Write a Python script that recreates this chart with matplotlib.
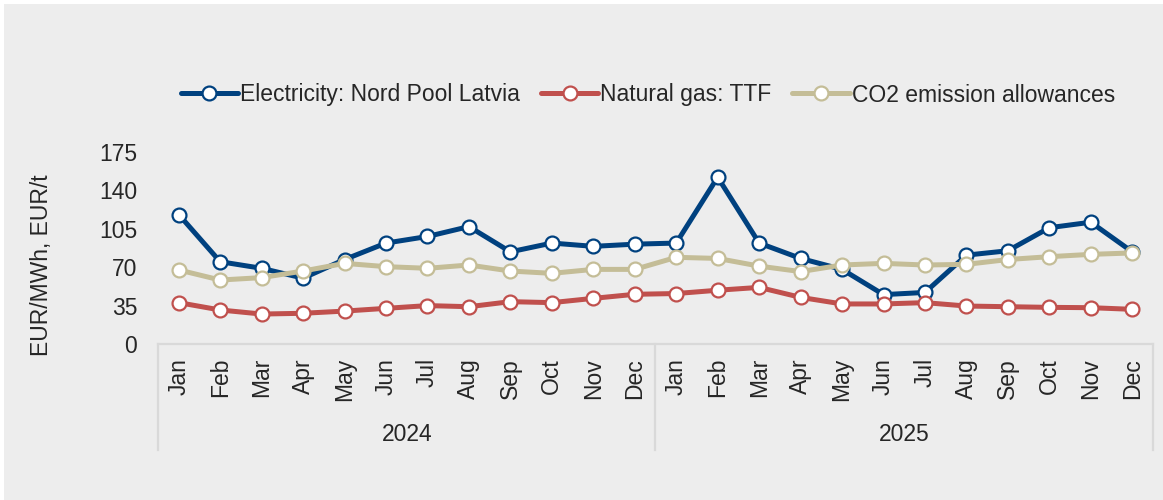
import numpy as np
import matplotlib
matplotlib.use("Agg")
from matplotlib import pyplot as plt
from matplotlib.patches import Rectangle
from matplotlib.transforms import blended_transform_factory

plt.rcParams['font.family'] = ['Liberation Sans', 'DejaVu Sans']

months = ["Jan", "Feb", "Mar", "Apr", "May", "Jun",
          "Jul", "Aug", "Sep", "Oct", "Nov", "Dec"]
years = ["2024", "2025"]

electricity = [118, 75, 69, 60, 77, 92, 98, 107, 84, 92, 89, 91,
               92, 152, 92, 78, 68, 45, 47, 81, 85, 106, 111, 84]
gas = [37.7, 31, 27.3, 28, 30, 32.5, 35, 34, 38.6, 37.7, 41.6, 45.3,
       46, 49, 51.6, 42.5, 36.5, 36.5, 37.7, 34.6, 34, 33.4, 33.1, 31.6]
co2 = [67.5, 58.3, 60.5, 66.5, 73.5, 70.5, 69, 72, 66.5, 64.4, 68, 68,
       79, 78, 71, 66, 72, 73.5, 72, 72.6, 77, 79.6, 81.7, 83]

series_names = ["Electricity: Nord Pool Latvia", "Natural gas: TTF",
                "CO2 emission allowances"]
colors = ["#00417f", "#c0504d", "#c4bd97"]

W, H = 1163, 500
fig = plt.figure(figsize=(W / 100, H / 100), dpi=100)
fig.patch.set_facecolor("white")
fig.add_artist(Rectangle((4 / W, 0), 1, (H - 4) / H, transform=fig.transFigure,
                         facecolor="#ededed", edgecolor="none", zorder=-10))

ax = fig.add_axes([158 / W, (H - 344) / H, (1153 - 158) / W, (344 - 152) / H])
ax.set_facecolor("none")

x = np.arange(len(electricity))
for vals, name, col in zip([electricity, gas, co2], series_names, colors):
    ax.plot(x, vals, color=col, lw=3.6, marker="o", ms=10,
            mfc="white", mec=col, mew=1.6, label=name, solid_capstyle="round")

ax.set_xlim(-0.5, len(x) - 0.5)
ax.set_ylim(0, 175)
ax.set_yticks([0, 35, 70, 105, 140, 175])
for s in ["top", "right", "left"]:
    ax.spines[s].set_visible(False)
ax.spines["bottom"].set_color("#d9d9d9")
ax.spines["bottom"].set_linewidth(1.6)
ax.tick_params(axis="y", length=0, pad=15, labelsize=16.5, labelcolor="#262626")
ax.set_xticks(x)
ax.set_xticklabels(months * len(years), rotation=90, va="top", ha="center")
ax.tick_params(axis="x", length=0, pad=10, labelsize=16.5, labelcolor="#262626")

# year separators and labels
trans = blended_transform_factory(ax.transData, ax.transAxes)
for i in range(len(years) + 1):
    ax.plot([i * 12 - 0.5] * 2, [0, -0.552], transform=trans, color="#d9d9d9",
            lw=1.6, clip_on=False)
for i, yr in enumerate(years):
    ax.text(i * 12 + 5.5, -0.472, yr, transform=trans, ha="center", va="center",
            fontsize=16.5, color="#262626")

fig.text(42 / W, 1 - 265 / H, "EUR/MWh, EUR/t", rotation=90, ha="center",
         va="center", fontsize=16.5, color="#262626")

ax.legend(loc="center", bbox_to_anchor=(648 / W, 1 - 95 / H),
          bbox_transform=fig.transFigure, ncol=3, frameon=False,
          fontsize=16.5, handlelength=2.5, handletextpad=0.1,
          columnspacing=0.9, labelcolor="#262626")

fig.savefig("out.png", dpi=100)
